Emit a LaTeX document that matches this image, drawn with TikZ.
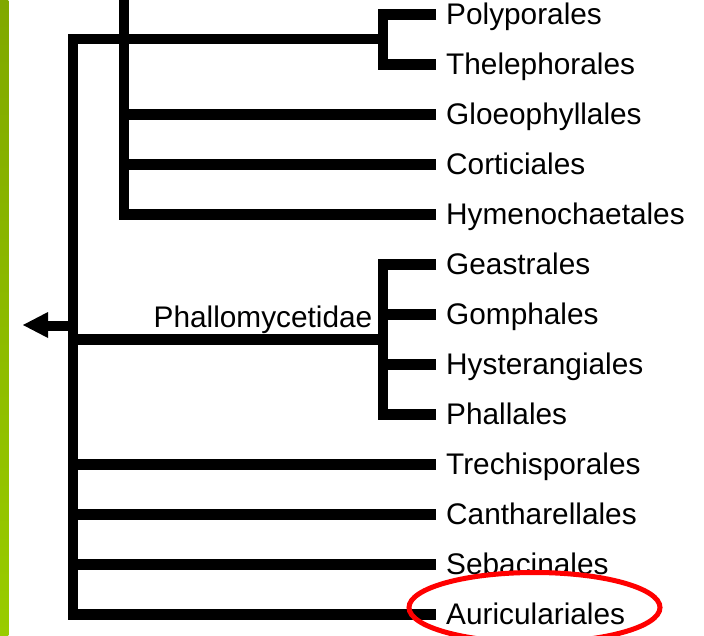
\documentclass[tikz,border=0pt]{standalone}
\usepackage{fontspec}
\setmainfont{Liberation Sans}
\usetikzlibrary{shapes.geometric}
\definecolor{stripetop}{HTML}{80A800}
\definecolor{stripebot}{HTML}{99CC00}
\definecolor{ringred}{HTML}{FF0000}
\begin{document}
\begin{tikzpicture}[x=1pt,y=-1pt,
  branch/.style={draw=black,line width=10.5pt,line join=miter},
  leaf/.style={anchor=base west,inner sep=0pt,font=\fontsize{29.8}{34}\selectfont,text=black},
  ring/.style={draw=ringred,line width=5pt}]
\useasboundingbox (0,0) rectangle (704,635);
\fill[white] (0,0) rectangle (704,635);
\shade[top color=stripetop,bottom color=stripebot] (0,0) rectangle (8.3,635);

% leaf end points and junctions
\foreach \n/\y in {pol/14.5,the/64.5,glo/114.5,cor/164.5,hym/214.5,gea/264.5,gom/314.5,hys/364.5,pha/414.5,tre/464.5,can/514.5,seb/564.5,aur/614.5}{
  \coordinate (e-\n) at (436,\y);
}
\coordinate (root) at (73,39);
\coordinate (rootbot) at (73,614.5);
\coordinate (agtop) at (124,-10);
\coordinate (polj) at (383,39);
\coordinate (phj) at (383,339.5);
\coordinate (phroot) at (73,339.5);
\coordinate (stub) at (73,326);
\coordinate (stubend) at (48,326);

% labels
\node[leaf] (pol) at (446,24.3) {Polyporales};
\node[leaf] (the) at (446,74.3) {Thelephorales};
\node[leaf] (glo) at (446,124.3) {Gloeophyllales};
\node[leaf] (cor) at (446,174.3) {Corticiales};
\node[leaf] (hym) at (446,224.3) {Hymenochaetales};
\node[leaf] (gea) at (446,274.3) {Geastrales};
\node[leaf] (gom) at (446,324.3) {Gomphales};
\node[leaf] (hys) at (446,374.3) {Hysterangiales};
\node[leaf] (pha) at (446,424.3) {Phallales};
\node[leaf] (tre) at (446,474.3) {Trechisporales};
\node[leaf] (can) at (446,524.3) {Cantharellales};
\node[leaf] (seb) at (446,574.3) {Sebacinales};
\node[leaf] (aur) at (446,624.3) {Auriculariales};
\node[leaf,anchor=base east] (phlab) at (372.5,327.5) {Phallomycetidae};

% tree
\draw[branch] (polj) -- (root) -- (rootbot) -- (e-aur);
\draw[branch] (e-pol) -- (e-pol-|polj) -- (e-the-|polj) -- (e-the);
\draw[branch] (agtop) -- (e-hym-|agtop) -- (e-hym);
\draw[branch] (e-glo-|agtop) -- (e-glo);
\draw[branch] (e-cor-|agtop) -- (e-cor);
\draw[branch] (e-gea) -- (e-gea-|phj) -- (e-pha-|phj) -- (e-pha);
\draw[branch] (e-gom-|phj) -- (e-gom);
\draw[branch] (e-hys-|phj) -- (e-hys);
\draw[branch] (phroot) -- (phj);
\draw[branch] (e-tre-|root) -- (e-tre);
\draw[branch] (e-can-|root) -- (e-can);
\draw[branch] (e-seb-|root) -- (e-seb);
\draw[draw=black,line width=10pt] (stub) -- (stubend);
\fill[black] (23,325) -- (48,312) -- (48,338) -- cycle;

% highlight ring
\node[ring,ellipse,minimum width=251pt,minimum height=70pt,inner sep=0pt] (hl) at (534.5,607.5) {};
\end{tikzpicture}
\end{document}
